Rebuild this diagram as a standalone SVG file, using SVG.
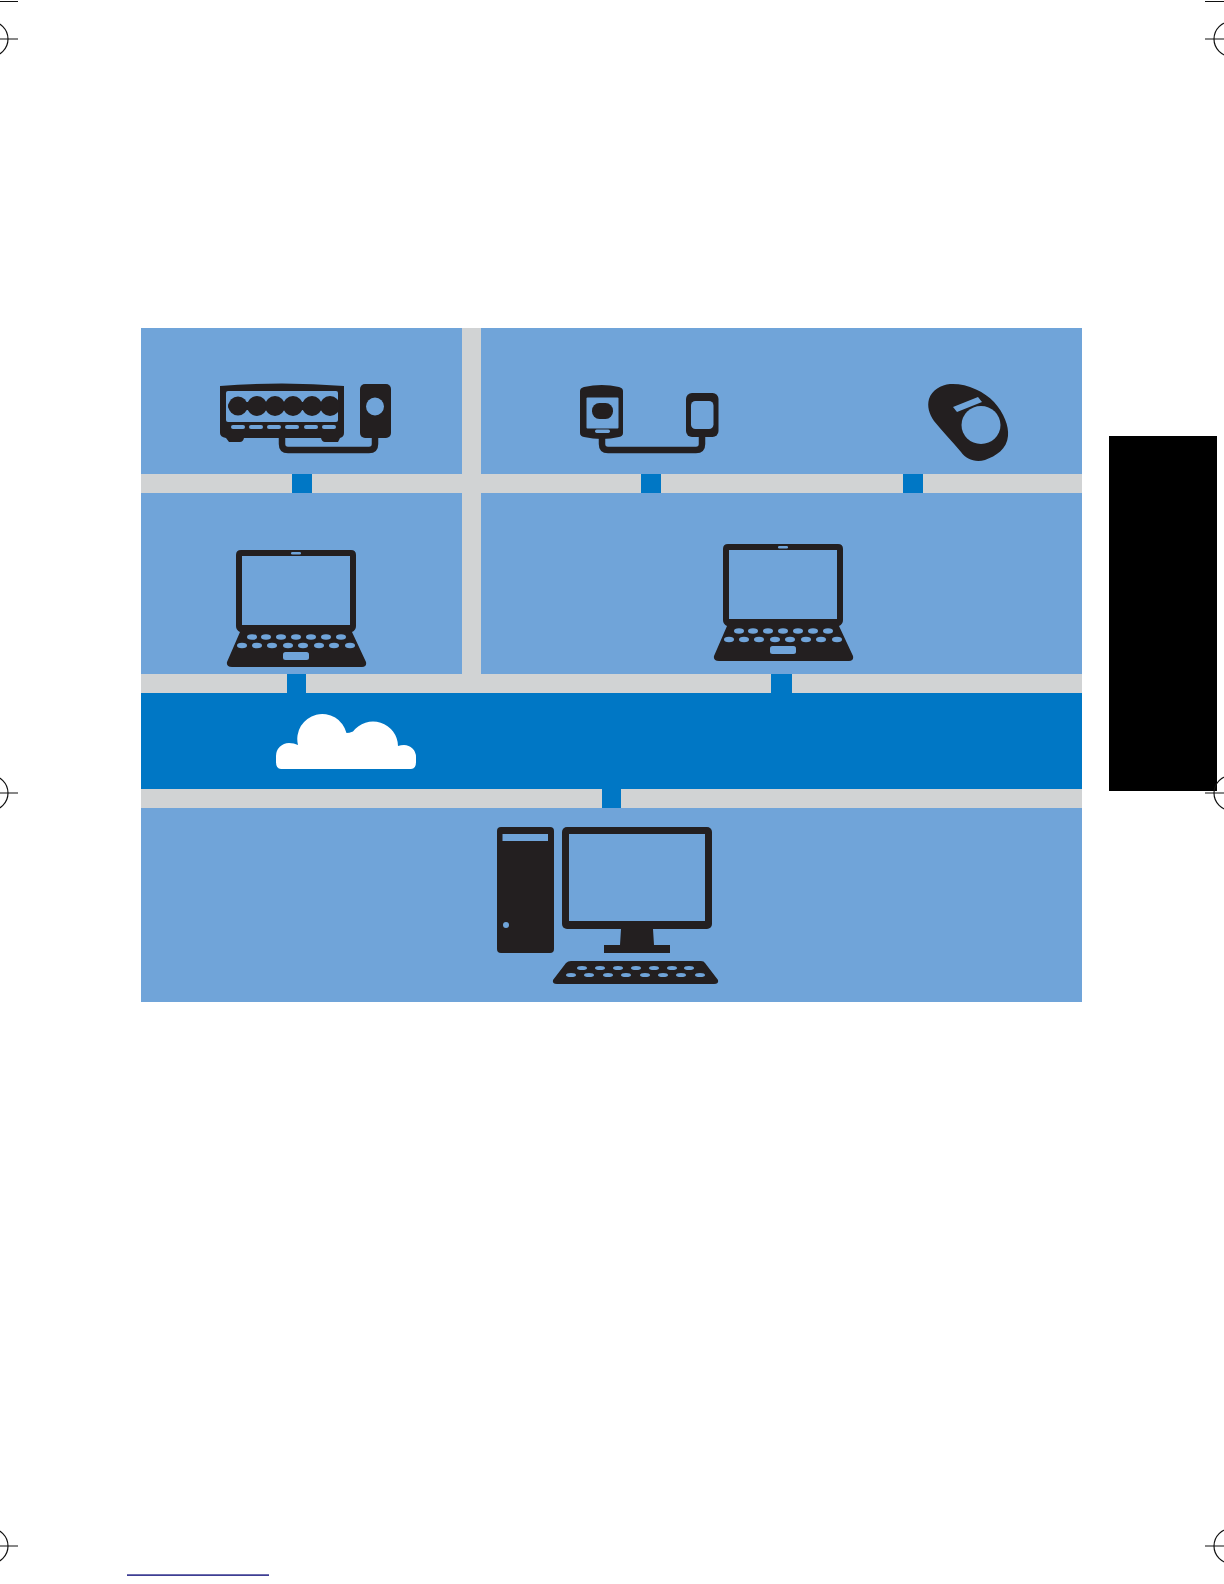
<svg xmlns="http://www.w3.org/2000/svg" width="1224" height="1584" viewBox="0 0 1224 1584">
<style>
.p{fill:#70a4d9}.g{fill:#d1d3d4}.b{fill:#0077c5}.k{fill:#231f20}.h{fill:#70a4d9}
.c{fill:none;stroke:#231f20;stroke-width:6.500;stroke-linejoin:round;stroke-linecap:round}
.m{fill:none;stroke:#111;stroke-width:1.200}
</style>
<defs>
<g id="key"><ellipse cx="0" cy="0" rx="5" ry="2.800"/></g>
<g id="laptop">
<path class="k" d="M241 550H351Q356 550 356 555V626Q356 630 352 632L366 662Q367 667 362 667H232Q226 667 227 662L240 632Q236 630 236 626V555Q236 550 241 550Z"/>
<rect class="h" x="242" y="556" width="108" height="69"/>
<rect class="h" x="291" y="552" width="10" height="2.600" rx="1.300"/>
<g class="h">
<use href="#key" x="252" y="637"/><use href="#key" x="266" y="637"/><use href="#key" x="281" y="637"/><use href="#key" x="296" y="637"/><use href="#key" x="311" y="637"/><use href="#key" x="326" y="637"/><use href="#key" x="341" y="637"/>
<use href="#key" x="242" y="645.500"/><use href="#key" x="257" y="645.500"/><use href="#key" x="272" y="645.500"/><use href="#key" x="288" y="645.500"/><use href="#key" x="303" y="645.500"/><use href="#key" x="319" y="645.500"/><use href="#key" x="334" y="645.500"/><use href="#key" x="350" y="645.500"/>
</g>
<rect class="h" x="283" y="652" width="26" height="8" rx="2.500"/>
</g>
</defs>
<rect width="1224" height="1584" fill="#fff"/>
<g id="panels">
<rect class="g" x="141" y="328" width="941" height="674"/>
<rect class="p" x="141" y="328" width="321" height="146"/>
<rect class="p" x="481" y="328" width="601" height="146"/>
<rect class="p" x="141" y="493" width="321" height="181"/>
<rect class="p" x="481" y="493" width="601" height="181"/>
<rect class="b" x="141" y="693" width="941" height="96"/>
<rect class="p" x="141" y="808" width="941" height="194"/>
</g>
<g id="connectors">
<rect class="b" x="292" y="474" width="20" height="19"/>
<rect class="b" x="641" y="474" width="20" height="19"/>
<rect class="b" x="903" y="474" width="20" height="19"/>
<rect class="b" x="287" y="674" width="19" height="19"/>
<rect class="b" x="771" y="674" width="21" height="19"/>
<rect class="b" x="602" y="789" width="19" height="19"/>
</g>
<g id="router">
<path class="c" d="M282 438V444Q282 450 288 450H369Q375 450 375 444V436"/>
<path class="k" d="M220 386Q282 381 344 386V433Q344 437 340 438L338 442H325Q322 442 321 438H244Q243 442 240 442H229L226 438Q220 437 220 433Z"/>
<rect class="h" x="226" y="391" width="112" height="31" rx="2"/>
<g class="k">
<rect x="228" y="402" width="109" height="8" rx="4"/>
<circle cx="238" cy="406" r="9.500"/><circle cx="257" cy="406" r="10"/><circle cx="275" cy="406" r="10"/><circle cx="293" cy="406" r="10"/><circle cx="312" cy="406" r="10"/><circle cx="330" cy="406" r="10"/>
</g>
<g class="h">
<rect x="231" y="425" width="14" height="4" rx="2"/><rect x="249" y="425" width="14" height="4" rx="2"/><rect x="267" y="425" width="14" height="4" rx="2"/><rect x="285" y="425" width="14" height="4" rx="2"/><rect x="304" y="425" width="14" height="4" rx="2"/><rect x="322" y="425" width="14" height="4" rx="2"/>
</g>
<rect class="k" x="360" y="384" width="31" height="54" rx="5"/>
<circle class="h" cx="375" cy="406.500" r="9"/>
</g>
<g id="adapter">
<path class="c" d="M602 436V444Q602 450 608 450H696Q702 450 702 444V434"/>
<path class="k" d="M580 391Q580 388 584 387Q602 383 619 387Q623 388 623 391V433Q623 436 619 437Q602 441 584 437Q580 436 580 433Z"/>
<rect class="h" x="586.500" y="397.500" width="32" height="31" rx="1"/>
<rect class="k" x="592" y="403" width="21" height="16" rx="7.500"/>
<rect class="h" x="595" y="429.500" width="15" height="3.500" rx="1.700"/>
<rect class="k" x="686" y="393" width="32.500" height="44" rx="6"/>
<rect class="h" x="691" y="401" width="22.500" height="28" rx="4.500"/>
</g>
<g id="mouse">
<path class="k" d="M950 384C966 383 984 391 994 402C1004 413 1009 426 1008 436C1007 449 996 456 985 460C975 463 966 459 961 452C952 441 942 431 934 421C929 414 927 406 929 399C932 390 941 385 950 384Z"/>
<ellipse class="h" cx="981" cy="425" rx="19.500" ry="19"/>
<path class="h" d="M953 407L978 397L982 402L957 412Z"/>
</g>
<g id="laptop-1"><use href="#laptop"/></g>
<g id="laptop-2"><use href="#laptop" x="487" y="-6"/></g>
<g id="cloud">
<path fill="#fff" d="M281 769Q276 769 276 762V756A13 13 0 0 1 289 743Q294 743 298 745A24.500 24.500 0 0 1 346.500 733Q349 733 353 731.500A25 25 0 0 1 398 746Q401 745 404 745A12 12 0 0 1 416 757V762Q416 769 411 769Z"/>
</g>
<g id="desktop">
<rect class="k" x="497" y="827" width="57" height="126" rx="4"/>
<rect class="h" x="502.500" y="834" width="45.500" height="7"/>
<circle class="h" cx="506" cy="925" r="3"/>
<rect class="k" x="562" y="827" width="150" height="102" rx="5"/>
<rect class="h" x="569" y="834" width="136" height="87"/>
<path class="k" d="M621 929H653L654 945H670V953H604V945H620Z"/>
<path class="k" d="M571 961H701Q704 961 705 963L718 980Q719 984 714 984H557Q552 984 553 980L566 963Q568 961 571 961Z"/>
<g class="h">
<ellipse cx="582" cy="968" rx="5" ry="2"/><ellipse cx="600" cy="968" rx="5" ry="2"/><ellipse cx="618" cy="968" rx="5" ry="2"/><ellipse cx="636" cy="968" rx="5" ry="2"/><ellipse cx="654" cy="968" rx="5" ry="2"/><ellipse cx="672" cy="968" rx="5" ry="2"/><ellipse cx="689" cy="968" rx="5" ry="2"/>
<ellipse cx="571" cy="975" rx="5" ry="2"/><ellipse cx="589" cy="975" rx="5" ry="2"/><ellipse cx="608" cy="975" rx="5" ry="2"/><ellipse cx="626" cy="975" rx="5" ry="2"/><ellipse cx="645" cy="975" rx="5" ry="2"/><ellipse cx="663" cy="975" rx="5" ry="2"/><ellipse cx="681" cy="975" rx="5" ry="2"/><ellipse cx="700" cy="975" rx="5" ry="2"/>
</g>
</g>
<rect id="tab" x="1109" y="436" width="108" height="355" fill="#000"/>
<g id="marks" class="m">
<path d="M0 1.500H18M0 39H18M0 793H18M0 1546H18"/>
<circle cx="-9.500" cy="39" r="17.500"/><circle cx="-9.500" cy="793" r="17.500"/><circle cx="-9.500" cy="1546" r="17.500"/>
<path d="M1205 1.500H1224M1205 39H1224M1205 793H1224M1205 1546H1224"/>
<circle cx="1231.500" cy="39" r="17.500"/><circle cx="1231.500" cy="793" r="17.500"/><circle cx="1231.500" cy="1546" r="17.500"/>
</g>
<rect id="rule" x="127" y="1574.400" width="142" height="1.400" fill="#10107a"/>
</svg>
